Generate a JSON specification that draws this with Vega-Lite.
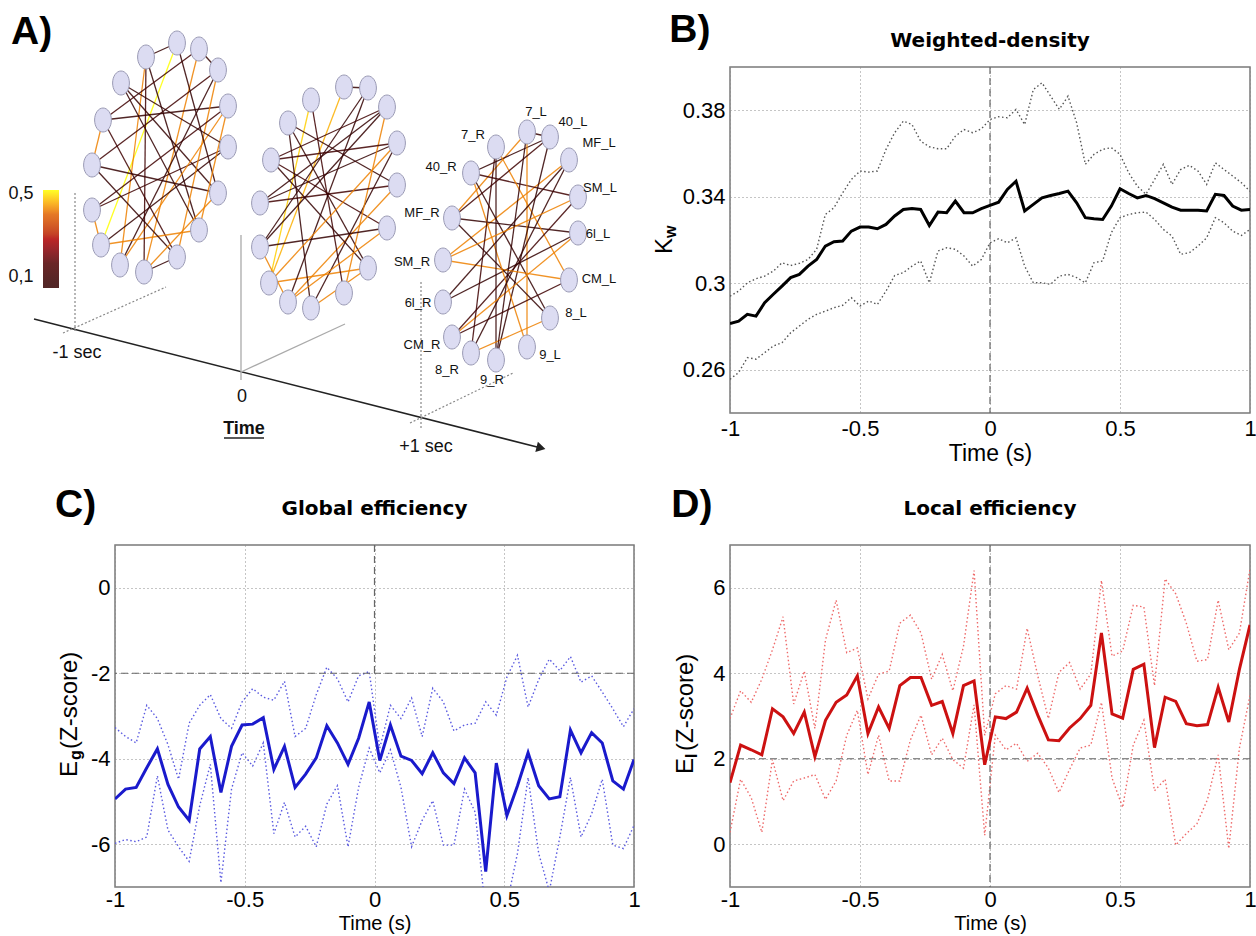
{
"$schema": "https://vega.github.io/schema/vega-lite/v6.json",
"padding": 0,
"background": "white",
"bounds": "flush",
"columns": 2,
"spacing": {"row": 132, "column": 96},
"config": {
  "view": {"stroke": "#7a7a7a", "strokeWidth": 1.5},
  "font": "Liberation Sans",
  "axis": {"grid": true, "gridColor": "#8a8a8a", "gridDash": [1, 3], "gridWidth": 1, "domain": false, "ticks": false, "labelFont": "Liberation Sans", "labelFontSize": 22, "labelColor": "#000", "labelPadding": 5, "labelFlush": false, "labelOverlap": false, "titleFont": "Liberation Sans", "titleFontSize": 23, "titleFontWeight": "normal", "titleColor": "#000", "titlePadding": 2}
},
"datasets": {
  "nodes": [
    {"id":"a0","x":177,"y":43},{"id":"a1","x":199,"y":49},{"id":"a2","x":218,"y":70},{"id":"a3","x":228,"y":106},{"id":"a4","x":228,"y":147},{"id":"a5","x":218,"y":193},{"id":"a6","x":199,"y":230},{"id":"a7","x":177,"y":257},{"id":"a8","x":144,"y":272},{"id":"a9","x":120,"y":265},{"id":"a10","x":101,"y":245},{"id":"a11","x":92,"y":210},{"id":"a12","x":92,"y":165},{"id":"a13","x":103,"y":120},{"id":"a14","x":121,"y":83},{"id":"a15","x":146,"y":57},
    {"id":"b0","x":344,"y":87},{"id":"b1","x":368,"y":88},{"id":"b2","x":387,"y":107},{"id":"b3","x":397,"y":143},{"id":"b4","x":397,"y":185},{"id":"b5","x":387,"y":228},{"id":"b6","x":368,"y":268},{"id":"b7","x":344,"y":293},{"id":"b8","x":311,"y":308},{"id":"b9","x":288,"y":302},{"id":"b10","x":269,"y":283},{"id":"b11","x":260,"y":247},{"id":"b12","x":260,"y":203},{"id":"b13","x":271,"y":160},{"id":"b14","x":288,"y":123},{"id":"b15","x":311,"y":100},
    {"id":"c0","x":527,"y":132},{"id":"c1","x":550,"y":137},{"id":"c2","x":569,"y":160},{"id":"c3","x":578,"y":197},{"id":"c4","x":578,"y":233},{"id":"c5","x":569,"y":280},{"id":"c6","x":550,"y":318},{"id":"c7","x":527,"y":347},{"id":"c8","x":496,"y":360},{"id":"c9","x":471,"y":353},{"id":"c10","x":452,"y":337},{"id":"c11","x":443,"y":302},{"id":"c12","x":443,"y":260},{"id":"c13","x":452,"y":218},{"id":"c14","x":471,"y":173},{"id":"c15","x":496,"y":147}
  ],
  "edges": [
    {"s":"a0","e":"a10","w":0.5},{"s":"a15","e":"a9","w":0.42},{"s":"a1","e":"a8","w":0.42},{"s":"a2","e":"a12","w":0.15},{"s":"a3","e":"a13","w":0.1},{"s":"a4","e":"a11","w":0.15},{"s":"a5","e":"a14","w":0.1},{"s":"a6","e":"a15","w":0.1},{"s":"a3","e":"a9","w":0.42},{"s":"a4","e":"a10","w":0.1},{"s":"a2","e":"a7","w":0.42},{"s":"a1","e":"a13","w":0.15},{"s":"a12","e":"a5","w":0.1},{"s":"a11","e":"a3","w":0.15},{"s":"a14","e":"a6","w":0.1},{"s":"a13","e":"a7","w":0.15},{"s":"a0","e":"a5","w":0.1},{"s":"a9","e":"a2","w":0.1},{"s":"a10","e":"a6","w":0.42},{"s":"a8","e":"a15","w":0.15},{"s":"a7","e":"a12","w":0.1},{"s":"a5","e":"a8","w":0.42},{"s":"a3","e":"a6","w":0.42},{"s":"a1","e":"a2","w":0.1},{"s":"a0","e":"a15","w":0.1},{"s":"a12","e":"a13","w":0.42},{"s":"a10","e":"a11","w":0.42},{"s":"a7","e":"a8","w":0.1},{"s":"a14","e":"a4","w":0.1},
    {"s":"b0","e":"b10","w":0.45},{"s":"b15","e":"b10","w":0.47},{"s":"b1","e":"b11","w":0.1},{"s":"b2","e":"b13","w":0.15},{"s":"b3","e":"b12","w":0.1},{"s":"b4","e":"b14","w":0.1},{"s":"b5","e":"b13","w":0.15},{"s":"b6","e":"b14","w":0.1},{"s":"b9","e":"b4","w":0.42},{"s":"b8","e":"b3","w":0.1},{"s":"b7","e":"b2","w":0.42},{"s":"b10","e":"b6","w":0.42},{"s":"b11","e":"b5","w":0.1},{"s":"b12","e":"b4","w":0.15},{"s":"b13","e":"b6","w":0.1},{"s":"b14","e":"b8","w":0.1},{"s":"b15","e":"b7","w":0.15},{"s":"b1","e":"b9","w":0.1},{"s":"b2","e":"b11","w":0.1},{"s":"b3","e":"b10","w":0.42},{"s":"b5","e":"b9","w":0.42},{"s":"b6","e":"b8","w":0.42},{"s":"b0","e":"b1","w":0.1},{"s":"b12","e":"b2","w":0.1},{"s":"b13","e":"b3","w":0.15},{"s":"b9","e":"b11","w":0.42},
    {"s":"c0","e":"c13","w":0.42},{"s":"c1","e":"c14","w":0.1},{"s":"c2","e":"c12","w":0.42},{"s":"c3","e":"c14","w":0.15},{"s":"c4","e":"c13","w":0.1},{"s":"c5","e":"c15","w":0.42},{"s":"c6","e":"c14","w":0.1},{"s":"c7","e":"c0","w":0.42},{"s":"c8","e":"c1","w":0.1},{"s":"c9","e":"c2","w":0.1},{"s":"c10","e":"c3","w":0.15},{"s":"c11","e":"c4","w":0.1},{"s":"c12","e":"c5","w":0.42},{"s":"c13","e":"c6","w":0.1},{"s":"c14","e":"c7","w":0.42},{"s":"c15","e":"c8","w":0.1},{"s":"c9","e":"c6","w":0.42},{"s":"c10","e":"c5","w":0.15},{"s":"c11","e":"c2","w":0.1},{"s":"c12","e":"c3","w":0.42},{"s":"c1","e":"c13","w":0.15},{"s":"c0","e":"c1","w":0.1},{"s":"c4","e":"c10","w":0.42},{"s":"c8","e":"c0","w":0.1},{"s":"c15","e":"c9","w":0.15}
  ],
  "guides": [
    {"x":34,"y":319,"x2":541,"y2":448,"k":"axis"},
    {"x":224,"y":438,"x2":264,"y2":438,"k":"axis"},
    {"x":75,"y":193,"x2":75,"y2":333,"k":"dot"},
    {"x":63,"y":333,"x2":166,"y2":287,"k":"dot"},
    {"x":241,"y":235,"x2":241,"y2":380,"k":"light"},
    {"x":241,"y":372,"x2":345,"y2":324,"k":"light"},
    {"x":421,"y":282,"x2":421,"y2":428,"k":"dot"},
    {"x":410,"y":423,"x2":513,"y2":373,"k":"dot"}
  ],
  "nodeLabels": [
    {"x":536,"y":112,"txt":"7_L"},{"x":573,"y":122,"txt":"40_L"},{"x":599,"y":143,"txt":"MF_L"},{"x":600,"y":188,"txt":"SM_L"},{"x":598,"y":234,"txt":"6l_L"},{"x":599,"y":279,"txt":"CM_L"},{"x":576,"y":313,"txt":"8_L"},{"x":550,"y":355,"txt":"9_L"},{"x":492,"y":380,"txt":"9_R"},{"x":447,"y":370,"txt":"8_R"},{"x":422,"y":345,"txt":"CM_R"},{"x":418,"y":303,"txt":"6l_R"},{"x":412,"y":262,"txt":"SM_R"},{"x":422,"y":213,"txt":"MF_R"},{"x":441,"y":167,"txt":"40_R"},{"x":473,"y":135,"txt":"7_R"}
  ],
  "timeLabels": [
    {"x":77,"y":353,"txt":"-1 sec"},{"x":242,"y":397,"txt":"0"},{"x":426,"y":447,"txt":"+1 sec"},{"x":21,"y":194,"txt":"0,5"},{"x":21,"y":277,"txt":"0,1"}
  ]
},
"concat": [
{
  "width": 519, "height": 346,
  "view": {"stroke": null},
  "layer": [
    {"data": {"values": [{"x":0,"y":0,"x2":1256,"y2":936}]},
     "mark": {"type":"rule","opacity":0},
     "encoding": {"x":{"field":"x","type":"quantitative","scale":{"domain":[115,634],"nice":false,"zero":false},"axis":null},
                  "y":{"field":"y","type":"quantitative","scale":{"domain":[67,413],"nice":false,"zero":false,"reverse":true},"axis":null},
                  "x2":{"field":"x2"},"y2":{"field":"y2"}}},
    {"data": {"name":"guides"}, "transform":[{"filter":"datum.k == 'axis'"}],
     "mark": {"type":"rule","color":"#222","strokeWidth":1.5},
     "encoding": {"x":{"field":"x","type":"quantitative","scale":{"domain":[115,634],"nice":false,"zero":false},"axis":null},
                  "y":{"field":"y","type":"quantitative","scale":{"domain":[67,413],"nice":false,"zero":false,"reverse":true},"axis":null},
                  "x2":{"field":"x2"},"y2":{"field":"y2"}}},
    {"data": {"name":"guides"}, "transform":[{"filter":"datum.k == 'dot'"}],
     "mark": {"type":"rule","color":"#888","strokeWidth":1.2,"strokeDash":[2,2]},
     "encoding": {"x":{"field":"x","type":"quantitative","scale":{"domain":[115,634],"nice":false,"zero":false},"axis":null},
                  "y":{"field":"y","type":"quantitative","scale":{"domain":[67,413],"nice":false,"zero":false,"reverse":true},"axis":null},
                  "x2":{"field":"x2"},"y2":{"field":"y2"}}},
    {"data": {"name":"guides"}, "transform":[{"filter":"datum.k == 'light'"}],
     "mark": {"type":"rule","color":"#aaa","strokeWidth":1.3},
     "encoding": {"x":{"field":"x","type":"quantitative","scale":{"domain":[115,634],"nice":false,"zero":false},"axis":null},
                  "y":{"field":"y","type":"quantitative","scale":{"domain":[67,413],"nice":false,"zero":false,"reverse":true},"axis":null},
                  "x2":{"field":"x2"},"y2":{"field":"y2"}}},
    {"data": {"values": [{"x":541,"y":448}]},
     "mark": {"type":"point","shape":"triangle-right","filled":true,"color":"#222","size":110,"angle":14.3,"opacity":1},
     "encoding": {"x":{"field":"x","type":"quantitative","scale":{"domain":[115,634],"nice":false,"zero":false},"axis":null},
                  "y":{"field":"y","type":"quantitative","scale":{"domain":[67,413],"nice":false,"zero":false,"reverse":true},"axis":null}}},
    {"data": {"name":"edges"},
     "transform": [
       {"lookup":"s","from":{"data":{"name":"nodes"},"key":"id","fields":["x","y"]},"as":["x1","y1"]},
       {"lookup":"e","from":{"data":{"name":"nodes"},"key":"id","fields":["x","y"]},"as":["x2","y2"]}
     ],
     "mark": {"type":"rule","strokeWidth":1.3,"opacity":0.85},
     "encoding": {"x":{"field":"x1","type":"quantitative","scale":{"domain":[115,634],"nice":false,"zero":false},"axis":null},
                  "y":{"field":"y1","type":"quantitative","scale":{"domain":[67,413],"nice":false,"zero":false,"reverse":true},"axis":null},
                  "x2":{"field":"x2"},"y2":{"field":"y2"},
                  "color":{"field":"w","type":"quantitative",
                           "scale":{"domain":[0.1,0.2,0.3,0.4,0.5],"range":["#000000","#500000","#b00000","#e06000","#ffff00"]},
                           "legend":{"orient":"none","legendX":-72,"legendY":123,"direction":"vertical","gradientLength":98,"gradientThickness":16,"title":null,"labelExpr":"''","padding":0,"gradientStrokeWidth":0}}}},
    {"data": {"name":"nodes"},
     "mark": {"type":"point","shape":"M0,-1C0.39,-1 0.7,-0.55 0.7,0C0.7,0.55 0.39,1 0,1C-0.39,1 -0.7,0.55 -0.7,0C-0.7,-0.55 -0.39,-1 0,-1Z","filled":true,"fill":"#dcdcf2","stroke":"#9a9ab4","strokeWidth":1,"size":576,"opacity":1},
     "encoding": {"x":{"field":"x","type":"quantitative","scale":{"domain":[115,634],"nice":false,"zero":false},"axis":null},
                  "y":{"field":"y","type":"quantitative","scale":{"domain":[67,413],"nice":false,"zero":false,"reverse":true},"axis":null}}},
    {"data": {"name":"nodeLabels"},
     "mark": {"type":"text","font":"Liberation Sans","fontSize":13,"color":"#111","align":"center","baseline":"middle"},
     "encoding": {"x":{"field":"x","type":"quantitative","scale":{"domain":[115,634],"nice":false,"zero":false},"axis":null},
                  "y":{"field":"y","type":"quantitative","scale":{"domain":[67,413],"nice":false,"zero":false,"reverse":true},"axis":null},
                  "text":{"field":"txt"}}},
    {"data": {"name":"timeLabels"},
     "mark": {"type":"text","font":"Liberation Sans","fontSize":18,"color":"#111","align":"center","baseline":"middle"},
     "encoding": {"x":{"field":"x","type":"quantitative","scale":{"domain":[115,634],"nice":false,"zero":false},"axis":null},
                  "y":{"field":"y","type":"quantitative","scale":{"domain":[67,413],"nice":false,"zero":false,"reverse":true},"axis":null},
                  "text":{"field":"txt"}}},
    {"data": {"values": [{"x":244,"y":429,"txt":"Time"}]},
     "mark": {"type":"text","font":"Liberation Sans","fontSize":18,"fontWeight":"bold","color":"#111","align":"center","baseline":"middle"},
     "encoding": {"x":{"field":"x","type":"quantitative","scale":{"domain":[115,634],"nice":false,"zero":false},"axis":null},
                  "y":{"field":"y","type":"quantitative","scale":{"domain":[67,413],"nice":false,"zero":false,"reverse":true},"axis":null},
                  "text":{"field":"txt"}}},
    {"data": {"values": [{"x":11,"y":44,"txt":"A)"}]},
     "mark": {"type":"text","font":"Liberation Sans","fontSize":39,"fontWeight":"bold","color":"#000","align":"left","baseline":"alphabetic"},
     "encoding": {"x":{"field":"x","type":"quantitative","scale":{"domain":[115,634],"nice":false,"zero":false},"axis":null},
                  "y":{"field":"y","type":"quantitative","scale":{"domain":[67,413],"nice":false,"zero":false,"reverse":true},"axis":null},
                  "text":{"field":"txt"}}}
  ]
},
{
  "width": 520, "height": 346,
  "data": {"values": [
{"t":-1,"m":0.2814,"u":0.294,"l":0.2556},
{"t":-0.9667,"m":0.2825,"u":0.2964,"l":0.2587},
{"t":-0.9333,"m":0.2856,"u":0.3002,"l":0.2656},
{"t":-0.9,"m":0.2848,"u":0.3021,"l":0.2649},
{"t":-0.8667,"m":0.291,"u":0.3033,"l":0.2679},
{"t":-0.8333,"m":0.2949,"u":0.3056,"l":0.271},
{"t":-0.8,"m":0.2987,"u":0.3095,"l":0.2725},
{"t":-0.7667,"m":0.3026,"u":0.3082,"l":0.2771},
{"t":-0.7333,"m":0.3041,"u":0.3092,"l":0.2802},
{"t":-0.7,"m":0.3079,"u":0.311,"l":0.2833},
{"t":-0.6667,"m":0.311,"u":0.3157,"l":0.2856},
{"t":-0.6333,"m":0.3172,"u":0.3318,"l":0.2871},
{"t":-0.6,"m":0.3192,"u":0.3349,"l":0.2887},
{"t":-0.5667,"m":0.3195,"u":0.3418,"l":0.2898},
{"t":-0.5333,"m":0.3241,"u":0.348,"l":0.2933},
{"t":-0.5,"m":0.326,"u":0.3519,"l":0.2895},
{"t":-0.4667,"m":0.326,"u":0.3514,"l":0.2918},
{"t":-0.4333,"m":0.3252,"u":0.3519,"l":0.2902},
{"t":-0.4,"m":0.3272,"u":0.3619,"l":0.2964},
{"t":-0.3667,"m":0.3311,"u":0.3696,"l":0.3036},
{"t":-0.3333,"m":0.3341,"u":0.375,"l":0.3049},
{"t":-0.3,"m":0.3346,"u":0.3734,"l":0.3079},
{"t":-0.2667,"m":0.3341,"u":0.3657,"l":0.3103},
{"t":-0.2333,"m":0.3267,"u":0.3631,"l":0.3002},
{"t":-0.2,"m":0.3329,"u":0.3622,"l":0.3149},
{"t":-0.1667,"m":0.3326,"u":0.3622,"l":0.3164},
{"t":-0.1333,"m":0.338,"u":0.368,"l":0.3157},
{"t":-0.1,"m":0.3326,"u":0.3711,"l":0.3126},
{"t":-0.0667,"m":0.3326,"u":0.3696,"l":0.3079},
{"t":-0.0333,"m":0.3345,"u":0.3714,"l":0.311},
{"t":0,"m":0.336,"u":0.3757,"l":0.3187},
{"t":0.0333,"m":0.3375,"u":0.377,"l":0.3206},
{"t":0.0667,"m":0.3434,"u":0.3765,"l":0.3187},
{"t":0.1,"m":0.3472,"u":0.3804,"l":0.321},
{"t":0.1333,"m":0.3334,"u":0.3734,"l":0.3079},
{"t":0.1667,"m":0.3365,"u":0.3896,"l":0.3002},
{"t":0.2,"m":0.3395,"u":0.3927,"l":0.3002},
{"t":0.2333,"m":0.3406,"u":0.3865,"l":0.2995},
{"t":0.2667,"m":0.3415,"u":0.3804,"l":0.3033},
{"t":0.3,"m":0.3426,"u":0.3865,"l":0.3041},
{"t":0.3333,"m":0.3372,"u":0.3742,"l":0.3026},
{"t":0.3667,"m":0.3303,"u":0.355,"l":0.3002},
{"t":0.4,"m":0.3298,"u":0.3596,"l":0.3095},
{"t":0.4333,"m":0.3295,"u":0.3619,"l":0.3103},
{"t":0.4667,"m":0.3357,"u":0.3627,"l":0.3234},
{"t":0.5,"m":0.3437,"u":0.3596,"l":0.3303},
{"t":0.5333,"m":0.3415,"u":0.3511,"l":0.3318},
{"t":0.5667,"m":0.3395,"u":0.3449,"l":0.3326},
{"t":0.6,"m":0.3406,"u":0.3412,"l":0.3329},
{"t":0.6333,"m":0.3391,"u":0.348,"l":0.3295},
{"t":0.6667,"m":0.3372,"u":0.355,"l":0.3249},
{"t":0.7,"m":0.3352,"u":0.3457,"l":0.3218},
{"t":0.7333,"m":0.3338,"u":0.3526,"l":0.3134},
{"t":0.7667,"m":0.3337,"u":0.3545,"l":0.3141},
{"t":0.8,"m":0.3338,"u":0.3519,"l":0.3172},
{"t":0.8333,"m":0.3334,"u":0.3457,"l":0.321},
{"t":0.8667,"m":0.3411,"u":0.3557,"l":0.3303},
{"t":0.9,"m":0.3406,"u":0.3526,"l":0.328},
{"t":0.9333,"m":0.3357,"u":0.3496,"l":0.3241},
{"t":0.9667,"m":0.3338,"u":0.3465,"l":0.3221},
{"t":1,"m":0.3341,"u":0.3426,"l":0.3249}
  ]},
  "encoding": {"x": {"field":"t","type":"quantitative","scale":{"domain":[-1,1],"nice":false,"zero":false},"axis":{"values":[-1,-0.5,0,0.5,1],"labelExpr":"'' + datum.value","title":"Time (s)","titlePadding":3}}},
  "layer": [
    {"mark": {"type":"line","clip":true,"color":"#555","strokeWidth":1.4,"strokeDash":[1.5,2.5]},
     "encoding": {"y": {"field":"u","type":"quantitative","scale":{"domain":[0.24,0.4],"nice":false,"zero":false},"axis":{"values":[0.26,0.3,0.34,0.38],"labelExpr":"'' + datum.value","title":null}}}},
    {"mark": {"type":"line","clip":true,"color":"#555","strokeWidth":1.4,"strokeDash":[1.5,2.5]},
     "encoding": {"y": {"field":"l","type":"quantitative","scale":{"domain":[0.24,0.4],"nice":false,"zero":false}}}},
    {"data": {"values": [{"t":0}]},
     "mark": {"type":"rule","color":"#666","strokeWidth":1.2,"strokeDash":[7,4]},
     "encoding": {}},
    {"mark": {"type":"line","clip":true,"color":"#000","strokeWidth":3},
     "encoding": {"y": {"field":"m","type":"quantitative","scale":{"domain":[0.24,0.4],"nice":false,"zero":false}}}},
    {"data": {"values": [{"t":0,"v":0.40925,"txt":"Weighted-density"}]},
     "mark": {"type":"text","font":"DejaVu Sans","fontSize":20,"fontWeight":"bold","color":"#000","align":"center","baseline":"alphabetic"},
     "encoding": {"y": {"field":"v","type":"quantitative","scale":{"domain":[0.24,0.4],"nice":false,"zero":false}},"text":{"field":"txt"}}},
    {"data": {"values": [{"t":-1.2333,"v":0.41156,"txt":"B)"}]},
     "mark": {"type":"text","font":"Liberation Sans","fontSize":39,"fontWeight":"bold","color":"#000","align":"left","baseline":"alphabetic"},
     "encoding": {"y": {"field":"v","type":"quantitative","scale":{"domain":[0.24,0.4],"nice":false,"zero":false}},"text":{"field":"txt"}}},
    {"data": {"values": [{"t":-1.2218,"v":0.31353,"txt":"K"}]},
     "mark": {"type":"text","font":"Liberation Sans","fontSize":24,"color":"#000","align":"left","baseline":"alphabetic","angle":270},
     "encoding": {"y": {"field":"v","type":"quantitative","scale":{"domain":[0.24,0.4],"nice":false,"zero":false}},"text":{"field":"txt"}}},
    {"data": {"values": [{"t":-1.2065,"v":0.32092,"txt":"w"}]},
     "mark": {"type":"text","font":"Liberation Sans","fontSize":16,"fontWeight":"bold","color":"#000","align":"left","baseline":"alphabetic","angle":270},
     "encoding": {"y": {"field":"v","type":"quantitative","scale":{"domain":[0.24,0.4],"nice":false,"zero":false}},"text":{"field":"txt"}}}
  ]
},
{
  "width": 519, "height": 342,
  "data": {"values": [
{"t":-1,"m":-4.94,"u":-3.27,"l":-5.98},
{"t":-0.9592,"m":-4.71,"u":-3.48,"l":-5.89},
{"t":-0.9184,"m":-4.67,"u":-3.63,"l":-5.94},
{"t":-0.8776,"m":-4.21,"u":-2.75,"l":-5.83},
{"t":-0.8367,"m":-3.77,"u":-3.06,"l":-4.4},
{"t":-0.7959,"m":-4.6,"u":-3.67,"l":-5.67},
{"t":-0.7551,"m":-5.13,"u":-4.48,"l":-6.06},
{"t":-0.7143,"m":-5.44,"u":-3.17,"l":-6.4},
{"t":-0.6735,"m":-3.77,"u":-2.75,"l":-5.1},
{"t":-0.6327,"m":-3.48,"u":-2.5,"l":-4.13},
{"t":-0.5918,"m":-4.79,"u":-3.06,"l":-6.9},
{"t":-0.551,"m":-3.71,"u":-3.29,"l":-4.71},
{"t":-0.5102,"m":-3.21,"u":-2.67,"l":-3.86},
{"t":-0.4694,"m":-3.19,"u":-2.36,"l":-4.17},
{"t":-0.4286,"m":-3.04,"u":-2.56,"l":-3.63},
{"t":-0.3878,"m":-4.25,"u":-2.63,"l":-5.75},
{"t":-0.3469,"m":-3.71,"u":-2.19,"l":-5.02},
{"t":-0.3061,"m":-4.67,"u":-3.48,"l":-5.83},
{"t":-0.2653,"m":-4.36,"u":-3.29,"l":-5.58},
{"t":-0.2245,"m":-3.98,"u":-2.5,"l":-6.06},
{"t":-0.1837,"m":-3.23,"u":-1.86,"l":-5.06},
{"t":-0.1429,"m":-3.63,"u":-2.13,"l":-4.63},
{"t":-0.102,"m":-4.13,"u":-2.67,"l":-6.06},
{"t":-0.0612,"m":-3.52,"u":-2.06,"l":-4.67},
{"t":-0.0204,"m":-2.67,"u":-1.96,"l":-3.75},
{"t":0.0204,"m":-4.04,"u":-3.75,"l":-4.33},
{"t":0.0612,"m":-3.21,"u":-2.75,"l":-3.79},
{"t":0.102,"m":-3.94,"u":-3.06,"l":-4.67},
{"t":0.1429,"m":-4.04,"u":-2.58,"l":-6.06},
{"t":0.1837,"m":-4.35,"u":-3.48,"l":-5.44},
{"t":0.2245,"m":-3.86,"u":-2.35,"l":-4.98},
{"t":0.2653,"m":-4.33,"u":-2.67,"l":-6.02},
{"t":0.3061,"m":-4.58,"u":-3.35,"l":-6.02},
{"t":0.3469,"m":-3.98,"u":-3.21,"l":-4.71},
{"t":0.3878,"m":-4.33,"u":-3.17,"l":-5.25},
{"t":0.4286,"m":-6.64,"u":-2.67,"l":-7.6},
{"t":0.4694,"m":-4.1,"u":-2.98,"l":-7.5},
{"t":0.5102,"m":-5.33,"u":-2.09,"l":-7.4},
{"t":0.551,"m":-4.63,"u":-1.58,"l":-6.21},
{"t":0.5918,"m":-3.86,"u":-2.79,"l":-4.44},
{"t":0.6327,"m":-4.63,"u":-2.15,"l":-6.21},
{"t":0.6735,"m":-4.94,"u":-1.67,"l":-7.1},
{"t":0.7143,"m":-4.89,"u":-1.94,"l":-5.83},
{"t":0.7551,"m":-3.33,"u":-1.61,"l":-4.44},
{"t":0.7959,"m":-3.86,"u":-2.21,"l":-5.83},
{"t":0.8367,"m":-3.39,"u":-2.06,"l":-5.29},
{"t":0.8776,"m":-3.63,"u":-2.44,"l":-4.48},
{"t":0.9184,"m":-4.52,"u":-2.83,"l":-6.02},
{"t":0.9592,"m":-4.71,"u":-3.25,"l":-6.1},
{"t":1,"m":-4.02,"u":-2.83,"l":-5.56}
  ]},
  "encoding": {"x": {"field":"t","type":"quantitative","scale":{"domain":[-1,1],"nice":false,"zero":false},"axis":{"values":[-1,-0.5,0,0.5,1],"labelExpr":"'' + datum.value","title":"Time (s)","labelPadding":2,"titlePadding":3,"titleFontSize":20}}},
  "layer": [
    {"mark": {"type":"line","clip":true,"color":"#5a5ae0","strokeWidth":1.4,"strokeDash":[1.5,2.5]},
     "encoding": {"y": {"field":"u","type":"quantitative","scale":{"domain":[-7,1],"nice":false,"zero":false},"axis":{"values":[-6,-4,-2,0],"labelExpr":"'' + datum.value","title":null}}}},
    {"mark": {"type":"line","clip":true,"color":"#5a5ae0","strokeWidth":1.4,"strokeDash":[1.5,2.5]},
     "encoding": {"y": {"field":"l","type":"quantitative","scale":{"domain":[-7,1],"nice":false,"zero":false}}}},
    {"data": {"values": [{"t":0,"v":1,"v2":-2}]},
     "mark": {"type":"rule","color":"#666","strokeWidth":1.2,"strokeDash":[7,4]},
     "encoding": {"y": {"field":"v","type":"quantitative","scale":{"domain":[-7,1],"nice":false,"zero":false}},"y2":{"field":"v2"}}},
    {"data": {"values": [{"v":-2}]},
     "mark": {"type":"rule","color":"#666","strokeWidth":1.2,"strokeDash":[7,4]},
     "encoding": {"x": null, "y": {"field":"v","type":"quantitative","scale":{"domain":[-7,1],"nice":false,"zero":false}}}},
    {"mark": {"type":"line","clip":true,"color":"#1a1acc","strokeWidth":3},
     "encoding": {"y": {"field":"m","type":"quantitative","scale":{"domain":[-7,1],"nice":false,"zero":false}}}},
    {"data": {"values": [{"t":0,"v":1.702,"txt":"Global efficiency"}]},
     "mark": {"type":"text","font":"DejaVu Sans","fontSize":20,"fontWeight":"bold","color":"#000","align":"center","baseline":"alphabetic"},
     "encoding": {"y": {"field":"v","type":"quantitative","scale":{"domain":[-7,1],"nice":false,"zero":false}},"text":{"field":"txt"}}},
    {"data": {"values": [{"t":-1.2312,"v":1.655,"txt":"C)"}]},
     "mark": {"type":"text","font":"Liberation Sans","fontSize":39,"fontWeight":"bold","color":"#000","align":"left","baseline":"alphabetic"},
     "encoding": {"y": {"field":"v","type":"quantitative","scale":{"domain":[-7,1],"nice":false,"zero":false}},"text":{"field":"txt"}}},
    {"data": {"values": [{"t":-1.1464,"v":-4.427,"txt":"E"},{"t":-1.1464,"v":-3.772,"txt":"(Z-score)"}]},
     "mark": {"type":"text","font":"Liberation Sans","fontSize":24,"color":"#000","align":"left","baseline":"alphabetic","angle":270},
     "encoding": {"y": {"field":"v","type":"quantitative","scale":{"domain":[-7,1],"nice":false,"zero":false}},"text":{"field":"txt"}}},
    {"data": {"values": [{"t":-1.131,"v":-4.029,"txt":"g"}]},
     "mark": {"type":"text","font":"Liberation Sans","fontSize":16,"fontWeight":"bold","color":"#000","align":"left","baseline":"alphabetic","angle":270},
     "encoding": {"y": {"field":"v","type":"quantitative","scale":{"domain":[-7,1],"nice":false,"zero":false}},"text":{"field":"txt"}}}
  ]
},
{
  "width": 520, "height": 342,
  "data": {"values": [
{"t":-1,"m":1.44,"u":2.94,"l":0.28},
{"t":-0.9592,"m":2.32,"u":3.59,"l":1.52},
{"t":-0.9184,"m":2.21,"u":3.32,"l":1.09},
{"t":-0.8776,"m":2.09,"u":3.86,"l":0.28},
{"t":-0.8367,"m":3.17,"u":4.55,"l":1.98},
{"t":-0.7959,"m":2.98,"u":5.32,"l":1.02},
{"t":-0.7551,"m":2.59,"u":3.28,"l":1.48},
{"t":-0.7143,"m":3.09,"u":4.05,"l":1.55},
{"t":-0.6735,"m":2.05,"u":2.71,"l":1.63},
{"t":-0.6327,"m":2.9,"u":4.78,"l":1.05},
{"t":-0.5918,"m":3.32,"u":5.71,"l":1.48},
{"t":-0.551,"m":3.49,"u":4.48,"l":2.55},
{"t":-0.5102,"m":3.94,"u":4.59,"l":3.13},
{"t":-0.4694,"m":2.59,"u":3.4,"l":1.63},
{"t":-0.4286,"m":3.21,"u":3.98,"l":2.55},
{"t":-0.3878,"m":2.71,"u":4.05,"l":1.48},
{"t":-0.3469,"m":3.71,"u":5.17,"l":1.48},
{"t":-0.3061,"m":3.9,"u":5.36,"l":2.44},
{"t":-0.2653,"m":3.9,"u":4.94,"l":3.02},
{"t":-0.2245,"m":3.25,"u":3.86,"l":2.09},
{"t":-0.1837,"m":3.34,"u":4.44,"l":2.48},
{"t":-0.1429,"m":2.59,"u":3.59,"l":1.98},
{"t":-0.102,"m":3.71,"u":4.63,"l":1.78},
{"t":-0.0612,"m":3.82,"u":6.4,"l":3.26},
{"t":-0.0204,"m":1.86,"u":2.55,"l":0.21},
{"t":0.0204,"m":2.98,"u":3.52,"l":2.55},
{"t":0.0612,"m":2.94,"u":3.71,"l":2.21},
{"t":0.102,"m":3.09,"u":3.63,"l":2.36},
{"t":0.1429,"m":3.65,"u":5.05,"l":1.94},
{"t":0.1837,"m":3.02,"u":3.94,"l":2.13},
{"t":0.2245,"m":2.44,"u":2.94,"l":1.78},
{"t":0.2653,"m":2.42,"u":4.02,"l":1.21},
{"t":0.3061,"m":2.72,"u":4.25,"l":1.75},
{"t":0.3469,"m":2.94,"u":3.63,"l":2.25},
{"t":0.3878,"m":3.25,"u":3.98,"l":2.32},
{"t":0.4286,"m":4.94,"u":6.17,"l":3.32},
{"t":0.4694,"m":3.05,"u":4.4,"l":1.55},
{"t":0.5102,"m":2.95,"u":4.52,"l":0.86},
{"t":0.551,"m":4.09,"u":5.59,"l":2.32},
{"t":0.5918,"m":4.21,"u":5.55,"l":2.9},
{"t":0.6327,"m":2.26,"u":3.71,"l":1.25},
{"t":0.6735,"m":3.44,"u":6.21,"l":1.52},
{"t":0.7143,"m":3.34,"u":5.86,"l":-0.02},
{"t":0.7551,"m":2.82,"u":5.17,"l":0.25},
{"t":0.7959,"m":2.77,"u":4.28,"l":0.48},
{"t":0.8367,"m":2.8,"u":4.32,"l":1.05},
{"t":0.8776,"m":3.67,"u":5.71,"l":2.09},
{"t":0.9184,"m":2.86,"u":4.55,"l":-0.1},
{"t":0.9592,"m":4.09,"u":4.94,"l":2.25},
{"t":1,"m":5.13,"u":6.44,"l":3.48}
  ]},
  "encoding": {"x": {"field":"t","type":"quantitative","scale":{"domain":[-1,1],"nice":false,"zero":false},"axis":{"values":[-1,-0.5,0,0.5,1],"labelExpr":"'' + datum.value","title":"Time (s)","labelPadding":2,"titlePadding":3,"titleFontSize":20}}},
  "layer": [
    {"mark": {"type":"line","clip":true,"color":"#ee6a6a","strokeWidth":1.4,"strokeDash":[1.5,2.5]},
     "encoding": {"y": {"field":"u","type":"quantitative","scale":{"domain":[-1,7],"nice":false,"zero":false},"axis":{"values":[0,2,4,6],"labelExpr":"'' + datum.value","title":null}}}},
    {"mark": {"type":"line","clip":true,"color":"#ee6a6a","strokeWidth":1.4,"strokeDash":[1.5,2.5]},
     "encoding": {"y": {"field":"l","type":"quantitative","scale":{"domain":[-1,7],"nice":false,"zero":false}}}},
    {"data": {"values": [{"t":0}]},
     "mark": {"type":"rule","color":"#666","strokeWidth":1.2,"strokeDash":[7,4]},
     "encoding": {}},
    {"data": {"values": [{"v":2}]},
     "mark": {"type":"rule","color":"#666","strokeWidth":1.2,"strokeDash":[7,4]},
     "encoding": {"x": null, "y": {"field":"v","type":"quantitative","scale":{"domain":[-1,7],"nice":false,"zero":false}}}},
    {"mark": {"type":"line","clip":true,"color":"#cc1111","strokeWidth":3},
     "encoding": {"y": {"field":"m","type":"quantitative","scale":{"domain":[-1,7],"nice":false,"zero":false}}}},
    {"data": {"values": [{"t":0,"v":7.702,"txt":"Local efficiency"}]},
     "mark": {"type":"text","font":"DejaVu Sans","fontSize":20,"fontWeight":"bold","color":"#000","align":"center","baseline":"alphabetic"},
     "encoding": {"y": {"field":"v","type":"quantitative","scale":{"domain":[-1,7],"nice":false,"zero":false}},"text":{"field":"txt"}}},
    {"data": {"values": [{"t":-1.2256,"v":7.655,"txt":"D)"}]},
     "mark": {"type":"text","font":"Liberation Sans","fontSize":39,"fontWeight":"bold","color":"#000","align":"left","baseline":"alphabetic"},
     "encoding": {"y": {"field":"v","type":"quantitative","scale":{"domain":[-1,7],"nice":false,"zero":false}},"text":{"field":"txt"}}},
    {"data": {"values": [{"t":-1.1415,"v":1.643,"txt":"E"},{"t":-1.1415,"v":2.181,"txt":"(Z-score)"}]},
     "mark": {"type":"text","font":"Liberation Sans","fontSize":24,"color":"#000","align":"left","baseline":"alphabetic","angle":270},
     "encoding": {"y": {"field":"v","type":"quantitative","scale":{"domain":[-1,7],"nice":false,"zero":false}},"text":{"field":"txt"}}},
    {"data": {"values": [{"t":-1.1262,"v":2.018,"txt":"l"}]},
     "mark": {"type":"text","font":"Liberation Sans","fontSize":16,"fontWeight":"bold","color":"#000","align":"left","baseline":"alphabetic","angle":270},
     "encoding": {"y": {"field":"v","type":"quantitative","scale":{"domain":[-1,7],"nice":false,"zero":false}},"text":{"field":"txt"}}}
  ]
}
]
}
